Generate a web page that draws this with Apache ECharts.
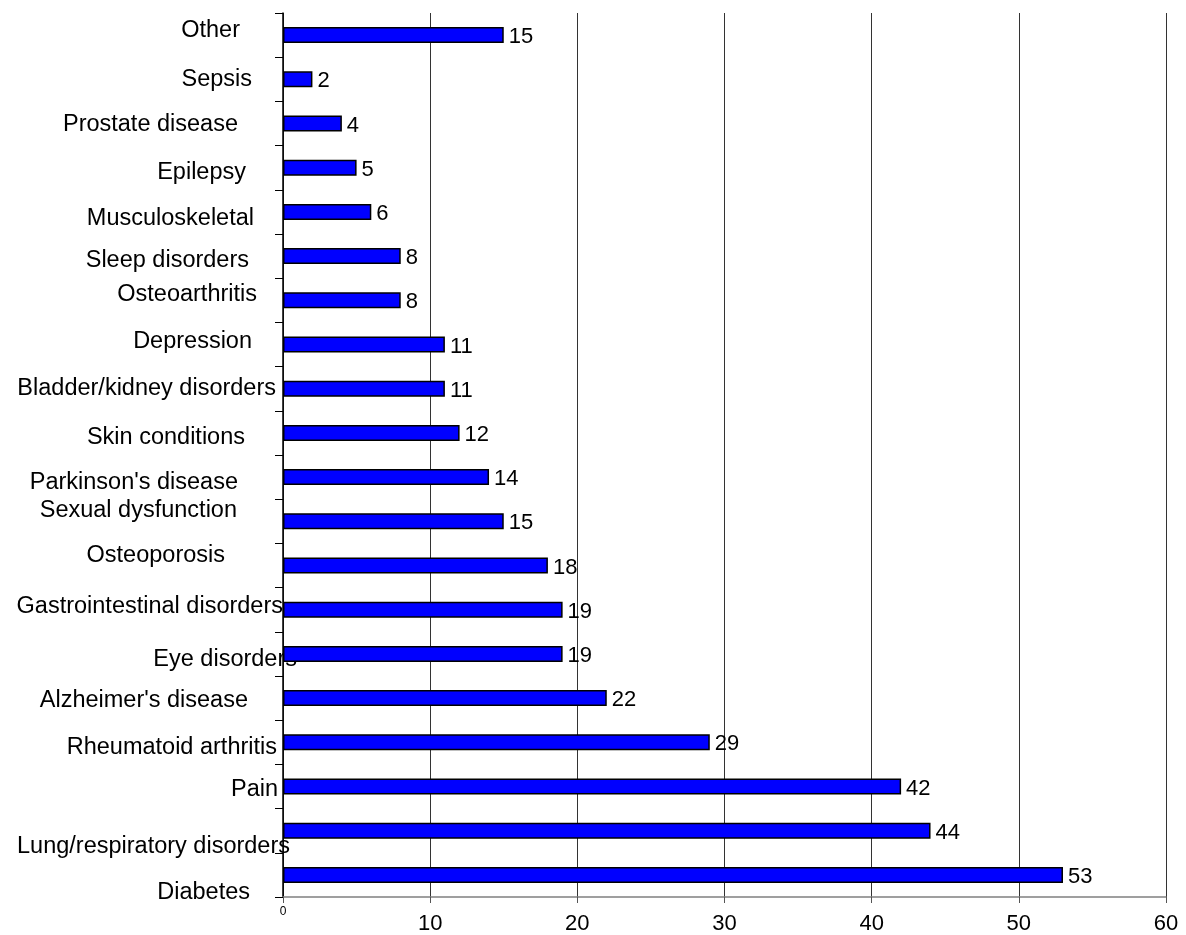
<!DOCTYPE html>
<html>
<head>
<meta charset="utf-8">
<script src="https://cdn.jsdelivr.net/npm/echarts@6/dist/echarts.min.js"></script>
<style>
  html, body { margin: 0; padding: 0; background: #fff; }
  #chart { width: 1186px; height: 935px; }
</style>
</head>
<body>
<div id="chart"></div>
<script>
// Conditions, listed top to bottom
const categories = [
  'Other', 'Sepsis', 'Prostate disease', 'Epilepsy', 'Musculoskeletal',
  'Sleep disorders', 'Osteoarthritis', 'Depression', 'Bladder/kidney disorders',
  'Skin conditions', "Parkinson's disease", 'Sexual dysfunction', 'Osteoporosis',
  'Gastrointestinal disorders', 'Eye disorders', "Alzheimer's disease",
  'Rheumatoid arthritis', 'Pain', 'Lung/respiratory disorders', 'Diabetes'
];
const counts = [15, 2, 4, 5, 6, 8, 8, 11, 11, 12, 14, 15, 18, 19, 19, 22, 29, 42, 44, 53];
const xTicks = [0, 10, 20, 30, 40, 50, 60];

// Hand-placed category label nudges: [vertical shift, right edge x]
const labelNudge = [
  [-5, 240], [0, 252], [1, 238], [5, 246], [7, 254],
  [4, 249], [-6, 257], [-3, 252], [0, 276], [5, 245],
  [5, 238], [-11, 237], [-10, 225], [-3, 283], [6, 297],
  [2, 248], [5, 277], [3, 278], [16, 290], [18, 250]
];

const AXIS_X = 283;
const LABEL_MARGIN = -20;
const baseRight = AXIS_X - LABEL_MARGIN;
const font = '"Liberation Sans", Arial, sans-serif';

const rich = {};
labelNudge.forEach(([dy, right], i) => {
  const t = dy > 0 ? 2 * dy : 0;
  const b = dy < 0 ? -2 * dy : 0;
  rich['c' + i] = {
    fontFamily: font, fontSize: 23.5, color: '#000',
    padding: [t, baseRight - right, b, 0]
  };
});

const chart = echarts.init(document.getElementById('chart'), null, { renderer: 'canvas' });
chart.setOption({
  animation: false,
  backgroundColor: '#fff',
  grid: { left: AXIS_X, right: 20, top: 13, bottom: 37, containLabel: false },
  xAxis: {
    type: 'value',
    min: xTicks[0], max: xTicks[xTicks.length - 1], interval: 10,
    axisLine: { show: true, lineStyle: { color: '#808080', width: 1.5 } },
    axisTick: { show: true, length: 6, lineStyle: { color: '#555' } },
    splitLine: { show: true, lineStyle: { color: '#333', width: 1 } },
    axisLabel: {
      margin: 8,
      formatter: v => v === 0 ? '{z|0}' : '{n|' + v + '}',
      rich: {
        z: { fontFamily: font, fontSize: 12, lineHeight: 14, color: '#000' },
        n: { fontFamily: font, fontSize: 22, color: '#000', padding: [8, 0, 0, 0] }
      }
    }
  },
  yAxis: {
    type: 'category',
    inverse: true,
    data: categories,
    axisLine: { show: true, lineStyle: { color: '#000', width: 1.5 } },
    axisTick: { show: true, length: 8, alignWithLabel: false, lineStyle: { color: '#000' } },
    axisLabel: {
      margin: LABEL_MARGIN,
      interval: 0,
      formatter: (v, i) => '{c' + i + '|' + v + '}',
      rich: rich
    }
  },
  series: [{
    type: 'bar',
    data: counts,
    barWidth: 16,
    itemStyle: { color: '#0000ff', borderColor: '#000', borderWidth: 1.5 },
    label: {
      show: true,
      position: 'right',
      distance: 5,
      offset: [0, 2],
      fontFamily: font,
      fontSize: 22,
      color: '#000'
    }
  }]
});
</script>
</body>
</html>
